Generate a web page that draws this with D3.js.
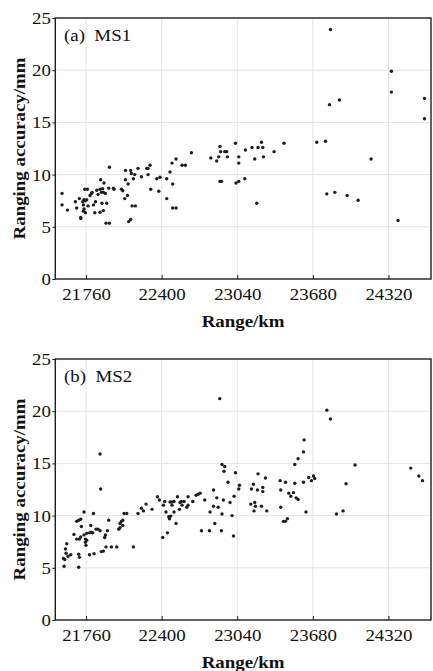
<!DOCTYPE html>
<html>
<head>
<meta charset="utf-8">
<script src="https://cdn.jsdelivr.net/npm/d3@7"></script>
<style>
  body { margin: 0; background: #fff; }
  svg text { font-family: "Liberation Serif", "Times New Roman", serif; fill: #111; }
</style>
</head>
<body>
<svg id="chart" width="433" height="671"></svg>
<script>
// Tick values and labels (shared by both panels)
const xTicks = [21760, 22400, 23040, 23680, 24320];
const xTickLabels = ["21\u200a760", "22400", "23040", "23680", "24320"];
const yTicks = [0, 5, 10, 15, 20, 25];
const panelLabels = ["(a)\u2002MS1", "(b)\u2002MS2"];

// MS1: range (km) and ranging accuracy (mm)
const ms1Range = [
  21557, 21557, 21603, 21670, 21681, 21704, 21715, 21715, 21732, 21738,
  21749, 21772, 21743, 21755, 21766, 21743, 21755, 21738, 21777, 21794,
  21806, 21811, 21823, 21840, 21834, 21851, 21862, 21879, 21879, 21884,
  21890, 21895, 21907, 21912, 21907, 21924, 21901, 21935, 21929, 21958,
  21958, 21952, 21992, 21997, 22060, 22071, 22094, 22094, 22116, 22088,
  22111, 22138, 22144, 22161, 22150, 22178, 22121, 22138, 22172, 22200,
  22229, 22274, 22285, 22302, 22285, 22308, 22359, 22376, 22386, 22443,
  22443, 22471, 22488, 22494, 22494, 22522, 22522, 22652, 22573, 22601,
  22816, 22866, 22883, 22894, 22900, 22934, 22951, 22957, 22894, 22906,
  23025, 23053, 23053, 23030, 23053, 23104, 23109, 23165, 23188, 23205,
  23216, 23245, 23256, 23262, 23352, 23436, 23713, 23787, 23821, 23798,
  23866, 23829, 24345, 24345, 23905, 24625, 24625, 24173, 23970, 24063,
  24401
];
const ms1Acc = [
  8.2, 7.1, 6.6, 7.4, 6.8, 7.7, 5.9, 5.8, 7.4, 7.1,
  8.6, 8.6, 7.6, 7.5, 7.6, 6.7, 6.35, 6.5, 7.0, 8.0,
  8.2, 8.3, 7.1, 7.4, 6.35, 8.5, 8.1, 8.6, 6.4, 9.5,
  8.3, 7.25, 6.55, 9.2, 8.3, 8.2, 8.65, 7.25, 5.35, 5.35,
  10.7, 8.7, 8.7, 8.6, 8.6, 8.45, 10.4, 9.5, 9.1, 7.7,
  8.0, 10.4, 10.1, 9.6, 7.0, 7.0, 5.5, 5.7, 10.0, 10.6,
  9.8, 10.6, 10.6, 10.9, 10.0, 8.6, 9.6, 8.4, 9.75, 9.6,
  7.7, 10.25, 11.1, 9.1, 6.8, 6.8, 11.5, 12.1, 10.9, 10.9,
  11.6, 11.3, 11.7, 12.7, 12.2, 12.2, 12.2, 11.7, 9.35, 9.35,
  13.0, 11.7, 11.1, 9.2, 9.35, 9.6, 12.35, 12.6, 11.5, 7.25,
  12.6, 13.1, 12.6, 11.7, 12.2, 13.0, 13.1, 13.2, 16.7, 8.15,
  8.3, 23.9, 19.9, 17.9, 17.15, 17.3, 15.35, 11.5, 8.0, 7.55,
  5.6
];

// MS2
const ms2Range = [
  21879, 21884, 21569, 21580, 21574, 21586, 21597, 21591, 21608, 21631,
  21658, 21681, 21698, 21715, 21681, 21704, 21698, 21704, 21698, 21715,
  21721, 21743, 21743, 21755, 21755, 21760, 21766, 21766, 21789, 21789,
  21800, 21806, 21817, 21823, 21828, 21845, 21862, 21879, 21890, 21907,
  21918, 21929, 21924, 21941, 21952, 21975, 22020, 22037, 22048, 22048,
  22060, 22071, 22071, 22082, 22105, 22161, 22200, 22229, 22246, 22268,
  22319, 22365, 22381, 22415, 22426, 22409, 22449, 22437, 22460, 22466,
  22477, 22471, 22488, 22488, 22505, 22505, 22522, 22534, 22556, 22573,
  22567, 22590, 22551, 22613, 22624, 22624, 22664, 22692, 22709, 22726,
  22765, 22839, 22867, 22810, 22839, 22878, 22923, 22911, 22850, 22737,
  22805, 22906, 22996, 22979, 23013, 23059, 23053, 22962, 22911, 22934,
  22928, 23025, 23008, 23154, 23160, 23177, 23188, 23194, 23182, 23211,
  23216, 23245, 23256, 23256, 23279, 23290, 23403, 23408, 23408, 23448,
  23431, 23448, 23465, 23476, 23493, 23516, 23527, 23527, 23555, 23601,
  23606, 23601, 23538, 23555, 23622, 23645, 23668, 23685, 23696, 22892,
  23798, 23829, 24037, 24509, 24577, 24608, 23961, 23880, 23936
];
const ms2Acc = [
  15.9, 12.55, 5.9, 5.8, 5.15, 6.8, 7.3, 6.4, 6.1, 6.25,
  8.2, 9.45, 9.55, 9.65, 7.75, 7.75, 6.3, 6.0, 5.05, 7.95,
  8.95, 10.35, 8.15, 7.75, 7.45, 7.15, 7.65, 8.3, 8.35, 6.25,
  9.05, 8.4, 8.35, 10.2, 6.35, 8.7, 8.7, 8.55, 6.55, 6.6,
  7.9, 7.0, 8.15, 8.55, 9.55, 7.0, 7.0, 8.7, 8.85, 9.25,
  9.45, 9.05, 9.55, 10.2, 10.2, 7.0, 10.2, 10.7, 10.45, 11.1,
  10.6, 11.8, 11.5, 11.0, 11.35, 7.9, 8.35, 10.35, 9.9, 9.7,
  9.95, 11.3, 11.0, 11.3, 11.35, 10.35, 9.25, 11.8, 11.25, 11.0,
  11.35, 11.35, 10.6, 10.8, 11.0, 11.8, 11.35, 11.95, 12.05, 12.15,
  11.5, 12.45, 11.7, 10.35, 10.9, 10.8, 11.5, 10.15, 9.25, 8.55,
  8.55, 8.55, 10.0, 11.25, 11.85, 12.9, 12.55, 13.2, 14.9, 14.7,
  14.25, 14.1, 8.05, 11.1, 12.55, 13.0, 11.25, 10.9, 10.45, 12.45,
  14.0, 10.9, 12.3, 12.7, 13.6, 10.45, 13.35, 12.45, 10.8, 13.2,
  9.45, 9.45, 9.7, 12.15, 11.85, 12.2, 14.9, 13.1, 15.45, 16.1,
  17.25, 13.2, 11.7, 11.55, 10.35, 13.65, 13.35, 13.8, 13.55, 21.2,
  20.1, 19.25, 14.85, 14.55, 13.8, 13.35, 13.05, 10.15, 10.45
];

const X_DOMAIN = [21500, 24680];
const LEFT = 55.3;
const RIGHT = 431;
const PLOT_H = 261;
const PANEL_TOPS = [18, 359];

// the original type is a horizontally stretched Times
const SX = 1.18;
const FONT = 16;
const GRID = "#e4e4e4";
const INK = "#1e1e1e";

const svg = d3.select("#chart");

function drawPanel(xs, ys, label, top) {
  const bottom = top + PLOT_H;
  const x = d3.scaleLinear().domain(X_DOMAIN).range([LEFT, RIGHT]);
  const y = d3.scaleLinear().domain([0, 25]).range([bottom, top]);
  const g = svg.append("g");

  // grid
  g.append("g")
    .selectAll("line")
    .data(xTicks)
    .join("line")
    .attr("x1", (d) => x(d))
    .attr("x2", (d) => x(d))
    .attr("y1", top)
    .attr("y2", bottom)
    .attr("stroke", GRID);
  g.append("g")
    .selectAll("line")
    .data(yTicks.slice(1, -1))
    .join("line")
    .attr("x1", LEFT)
    .attr("x2", RIGHT)
    .attr("y1", (d) => y(d))
    .attr("y2", (d) => y(d))
    .attr("stroke", GRID);

  // points
  g.append("g")
    .attr("fill", INK)
    .selectAll("circle")
    .data(d3.zip(xs, ys))
    .join("circle")
    .attr("cx", (d) => x(d[0]))
    .attr("cy", (d) => y(d[1]))
    .attr("r", 1.7);

  // axes (domain line replaced by the frame)
  const xAxis = g
    .append("g")
    .attr("transform", `translate(0,${bottom})`)
    .call(
      d3
        .axisBottom(x)
        .tickValues(xTicks)
        .tickFormat((d, i) => xTickLabels[i])
        .tickSizeInner(-4)
        .tickSizeOuter(0)
    );
  xAxis.select(".domain").remove();
  xAxis.selectAll(".tick line").attr("stroke", INK);
  xAxis
    .selectAll(".tick text")
    .attr("y", 0)
    .attr("dy", 21)
    .attr("font-size", FONT)
    .attr("font-family", null)
    .attr("transform", `scale(${SX},1)`);

  const yAxis = g
    .append("g")
    .attr("transform", `translate(${LEFT},0)`)
    .call(d3.axisLeft(y).tickValues(yTicks).tickSizeInner(3).tickSizeOuter(0));
  yAxis.select(".domain").remove();
  yAxis.selectAll(".tick line").attr("stroke", INK);
  yAxis
    .selectAll(".tick text")
    .attr("x", -4.5 / SX)
    .attr("dy", "0.34em")
    .attr("font-size", FONT)
    .attr("font-family", null)
    .attr("transform", `scale(${SX},1)`);

  // frame
  g.append("rect")
    .attr("x", LEFT)
    .attr("y", top)
    .attr("width", RIGHT - LEFT)
    .attr("height", PLOT_H)
    .attr("fill", "none")
    .attr("stroke", INK)
    .attr("stroke-width", 1.4);

  // panel label
  g.append("text")
    .attr("transform", `translate(64,${top + 23}) scale(${SX},1)`)
    .attr("font-size", FONT)
    .text(label);

  // axis titles
  g.append("text")
    .attr("transform", `translate(${(LEFT + RIGHT) / 2},${bottom + 48}) scale(${SX},1)`)
    .attr("text-anchor", "middle")
    .attr("font-size", FONT)
    .attr("font-weight", "bold")
    .text("Range/km");

  g.append("text")
    .attr("transform", `translate(25,${(top + bottom) / 2}) rotate(-90) scale(${SX},1)`)
    .attr("text-anchor", "middle")
    .attr("font-size", FONT)
    .attr("font-weight", "bold")
    .text("Ranging accuracy/mm");
}

drawPanel(ms1Range, ms1Acc, panelLabels[0], PANEL_TOPS[0]);
drawPanel(ms2Range, ms2Acc, panelLabels[1], PANEL_TOPS[1]);
</script>
</body>
</html>
